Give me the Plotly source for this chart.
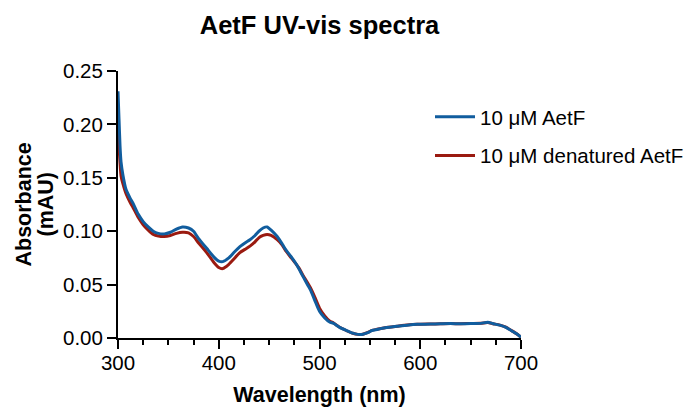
import plotly.graph_objects as go

wl_native = [300, 301, 302, 303, 305, 308, 312, 315, 320, 325, 330, 335, 340, 346, 352, 358, 364, 370,
             375, 380, 388, 395, 400, 404, 410, 415, 421, 426, 431, 436, 440, 444, 448, 452, 458, 463,
             467, 472, 477, 480, 484, 488, 491, 495, 500, 505, 510, 514, 520, 527, 533, 538, 543, 548,
             552, 557, 565, 577, 587, 597, 610, 620, 630, 640, 650, 660, 667, 672, 679, 685, 692, 697, 700]
abs_native = [0.231, 0.205, 0.180, 0.165, 0.152, 0.139, 0.131, 0.126, 0.116, 0.109, 0.104, 0.100, 0.098,
              0.0975, 0.099, 0.102, 0.104, 0.103, 0.100, 0.093, 0.084, 0.076, 0.072, 0.0715, 0.075, 0.080,
              0.0855, 0.089, 0.092, 0.096, 0.100, 0.103, 0.104, 0.101, 0.095, 0.088, 0.082, 0.076, 0.069,
              0.064, 0.057, 0.050, 0.045, 0.036, 0.025, 0.019, 0.015, 0.0137, 0.010, 0.007, 0.0045, 0.0034,
              0.0035, 0.005, 0.007, 0.008, 0.0095, 0.011, 0.012, 0.0128, 0.013, 0.0133, 0.0135, 0.0134,
              0.0135, 0.0137, 0.0147, 0.0135, 0.012, 0.010, 0.006, 0.003, 0.0007]

wl_denat = wl_native
abs_denat = [0.2016, 0.180, 0.164, 0.152, 0.144, 0.135, 0.127, 0.122, 0.113, 0.106, 0.101, 0.097, 0.0955,
             0.095, 0.096, 0.098, 0.099, 0.0985, 0.095, 0.089, 0.080, 0.071, 0.066, 0.065, 0.069, 0.074,
             0.080, 0.083, 0.086, 0.090, 0.094, 0.096, 0.097, 0.096, 0.092, 0.087, 0.081, 0.075, 0.069,
             0.065, 0.058, 0.052, 0.047, 0.039, 0.028, 0.021, 0.016, 0.014, 0.010, 0.0068, 0.0044, 0.0034,
             0.0036, 0.0052, 0.0071, 0.0082, 0.0096, 0.011, 0.0121, 0.0128, 0.0131, 0.0133, 0.0135, 0.0134,
             0.0136, 0.0137, 0.0145, 0.0134, 0.0121, 0.0101, 0.0062, 0.0031, 0.0008]

x_ticks = [300, 400, 500, 600, 700]
y_ticks = [0.00, 0.05, 0.10, 0.15, 0.20, 0.25]
y_tick_labels = ["0.00", "0.05", "0.10", "0.15", "0.20", "0.25"]
y_title_lines = ["Absorbance", "(mAU)"]

FONT = "Liberation Sans, Arial, Helvetica, sans-serif"
BLUE = "#115d9e"
RED = "#9a1a10"

W, H = 696, 407
L, R, T, B = 118, 175, 71, 69

fig = go.Figure()
fig.add_trace(go.Scatter(x=wl_denat, y=abs_denat, mode="lines", name="10 μM denatured AetF",
                         line=dict(color=RED, width=3, shape="spline", smoothing=0.6),
                         legendgroup="b", legendrank=2))
fig.add_trace(go.Scatter(x=wl_native, y=abs_native, mode="lines", name="10 μM AetF",
                         line=dict(color=BLUE, width=3, shape="spline", smoothing=0.6),
                         legendgroup="a", legendrank=1))

# y-axis title as two rotated lines
for txt, xc in zip(y_title_lines, [23, 45]):
    fig.add_annotation(text=f"<b>{txt}</b>", textangle=-90, xref="paper", yref="paper",
                       x=(xc - L) / (W - L - R), y=0.5, xanchor="center", yanchor="middle",
                       showarrow=False, font=dict(size=21.5))

fig.update_layout(
    width=W, height=H,
    margin=dict(l=L, r=R, t=T, b=B, autoexpand=False),
    paper_bgcolor="white", plot_bgcolor="white",
    font=dict(family=FONT, size=20.5, color="black"),
    title=dict(text="<b>AetF UV-vis spectra</b>", x=(L + (W - R)) / 2 / W, xanchor="center",
               y=1 - 25 / H, yanchor="middle", font=dict(size=25.5)),
    showlegend=True,
    legend=dict(x=(430 - L) / (W - L - R), y=1 - (97 - T) / (H - T - B), xanchor="left",
                yanchor="top", tracegroupgap=9, font=dict(size=20.5),
                bgcolor="rgba(0,0,0,0)", itemwidth=40),
    xaxis=dict(range=[300, 700], tickvals=x_ticks, ticks="outside", ticklen=9, tickwidth=2,
               tickcolor="black", showline=True, linecolor="black", linewidth=2,
               showgrid=False, zeroline=False, ticklabelstandoff=-4,
               minor=dict(dtick=25, ticks="outside", ticklen=5, tickwidth=2, tickcolor="black"),
               title=dict(text="<b>Wavelength (nm)</b>", font=dict(size=21.5), standoff=14),
               tickfont=dict(size=20.5)),
    yaxis=dict(range=[0, 0.25], tickvals=y_ticks, ticktext=y_tick_labels, ticks="outside",
               ticklen=9, tickwidth=2, tickcolor="black", showline=True, linecolor="black",
               linewidth=2, showgrid=False, zeroline=False,
               tickfont=dict(size=20.5)),
)

fig.write_html("out.html", config={"displayModeBar": False},
               post_script="document.body.style.margin='0';")
